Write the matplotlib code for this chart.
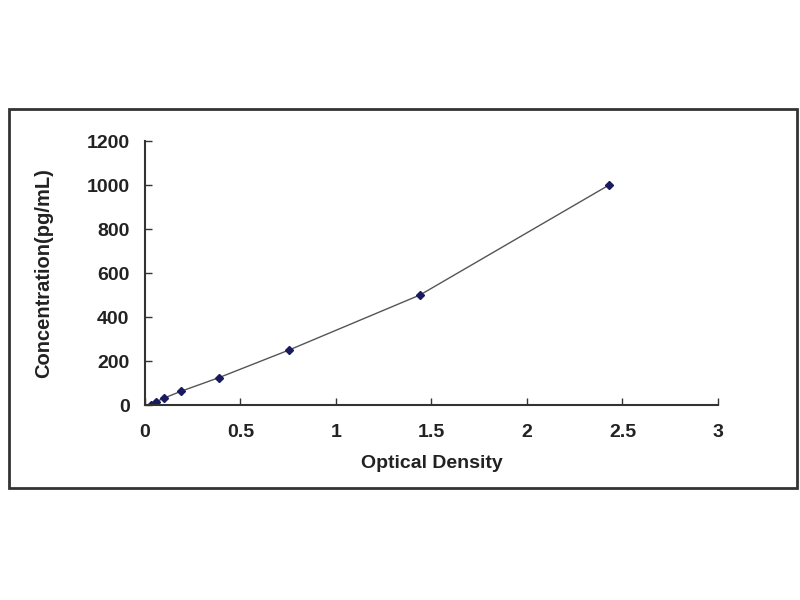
import numpy as np
import matplotlib.pyplot as plt
from matplotlib.patches import Rectangle

# Standard curve values
optical_density = [0.03, 0.06, 0.10, 0.19, 0.39, 0.755, 1.44, 2.43]
concentration = [0, 15.6, 31.2, 62.5, 125, 250, 500, 1000]

x_ticks = [0, 0.5, 1, 1.5, 2, 2.5, 3]
x_tick_labels = ['0', '0.5', '1', '1.5', '2', '2.5', '3']
y_ticks = [0, 200, 400, 600, 800, 1000, 1200]

plt.rcParams['font.family'] = ['Liberation Sans', 'DejaVu Sans']

fig = plt.figure(figsize=(8, 6), dpi=100)

# outer frame around the chart
fig.patches.append(Rectangle((0.011, 0.187), 0.985, 0.631, transform=fig.transFigure,
                             fill=False, edgecolor='#333333', linewidth=2))

ax = fig.add_axes([0.181, 0.325, 0.7165, 0.44])
ax.plot(optical_density, concentration, color='#555555', linewidth=1.0)
ax.plot(optical_density, concentration, linestyle='none', marker='D', markersize=4,
        color='#1a1a5e')

ax.set_xlim(0, 3)
ax.set_ylim(0, 1200)
ax.set_xticks(x_ticks)
ax.set_xticklabels(x_tick_labels)
ax.set_yticks(y_ticks)

for side in ['top', 'right']:
    ax.spines[side].set_visible(False)
for side in ['left', 'bottom']:
    ax.spines[side].set_linewidth(1.5)
    ax.spines[side].set_color('#333333')

ax.tick_params(direction='in', length=5, width=1, colors='#333333', labelcolor='#222222',
               labelsize=14)
ax.tick_params(axis='x', pad=14)
ax.tick_params(axis='y', pad=11)
for lbl in ax.get_xticklabels() + ax.get_yticklabels():
    lbl.set_fontweight('bold')

ax.set_xlabel('Optical Density', fontsize=14, fontweight='bold', color='#222222', labelpad=10)
ax.set_ylabel('Concentration(pg/mL)', fontsize=14.5, fontweight='bold', color='#222222', labelpad=24)

plt.savefig('out.png', dpi=100)
